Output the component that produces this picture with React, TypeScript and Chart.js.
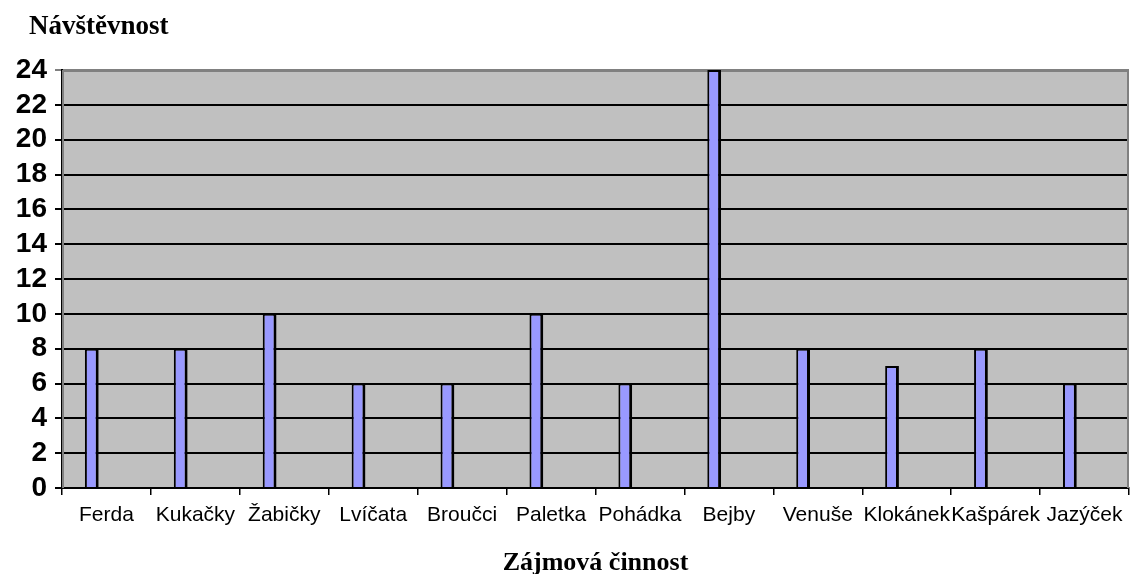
import React, { useEffect, useRef } from "react";
import { Chart, registerables } from "chart.js";

Chart.register(...registerables);

const categories = [
  "Ferda",
  "Kukačky",
  "Žabičky",
  "Lvíčata",
  "Broučci",
  "Paletka",
  "Pohádka",
  "Bejby",
  "Venuše",
  "Klokánek",
  "Kašpárek",
  "Jazýček",
];
const visits = [8, 8, 10, 6, 6, 10, 6, 24, 8, 7, 8, 6];
// second (empty) series of the original chart – it only reserves the slot beside each bar
const emptySeries = [null, null, null, null, null, null, null, null, null, null, null, null];
const yTicks = [0, 2, 4, 6, 8, 10, 12, 14, 16, 18, 20, 22, 24];

const chartTitle = "Návštěvnost";
const xTitle = "Zájmová činnost";

const plotBackground = {
  id: "plotBackground",
  beforeDraw(chart: any) {
    const { ctx, chartArea } = chart;
    ctx.save();
    ctx.fillStyle = "#C0C0C0";
    ctx.fillRect(chartArea.left, chartArea.top, chartArea.right - chartArea.left, chartArea.bottom - chartArea.top);
    ctx.restore();
  },
  beforeDatasetsDraw(chart: any) {
    const { ctx, chartArea } = chart;
    ctx.save();
    ctx.strokeStyle = "#808080";
    ctx.lineWidth = 2;
    ctx.beginPath();
    ctx.moveTo(chartArea.left + 1, chartArea.bottom);
    ctx.lineTo(chartArea.left + 1, chartArea.top + 1);
    ctx.lineTo(chartArea.right - 1, chartArea.top + 1);
    ctx.lineTo(chartArea.right - 1, chartArea.bottom);
    ctx.stroke();
    ctx.restore();
  },
  afterDraw(chart: any) {
    const { ctx } = chart;
    ctx.save();
    ctx.fillStyle = "#000";
    ctx.font = "bold 27px 'Liberation Serif', 'Times New Roman', serif";
    ctx.textAlign = "left";
    ctx.textBaseline = "middle";
    ctx.fillText(chartTitle, 29, 27);
    ctx.restore();
  },
};

export default function App() {
  const ref = useRef<HTMLCanvasElement | null>(null);

  useEffect(() => {
    if (!ref.current) return;
    const chart = new Chart(ref.current, {
      type: "bar",
      data: {
        labels: categories,
        datasets: [
          {
            label: "Návštěvnost",
            data: visits,
            backgroundColor: "#9999FF",
            borderColor: "#000000",
            borderWidth: { left: 2, right: 3, top: 2, bottom: 0 },
            borderSkipped: false,
            categoryPercentage: 0.66,
            barPercentage: 0.47,
          },
          {
            label: "",
            data: emptySeries,
            backgroundColor: "#993366",
            categoryPercentage: 0.66,
            barPercentage: 0.47,
          },
        ],
      },
      options: {
        responsive: false,
        animation: false,
        layout: { padding: { left: 0, top: 70, right: 19, bottom: 0 } },
        plugins: {
          legend: { display: false },
          tooltip: { enabled: false },
          title: { display: false },
        },
        scales: {
          x: {
            offset: true,
            grid: {
              display: true,
              offset: true,
              drawOnChartArea: false,
              drawTicks: true,
              tickLength: 7,
              color: "#000",
              lineWidth: 1.5,
            },
            border: { display: true, color: "#000", width: 2 },
            ticks: {
              color: "#000",
              font: { family: "'Liberation Sans', Arial, sans-serif", size: 21 },
              padding: 8,
              maxRotation: 0,
              autoSkip: false,
            },
            title: {
              display: true,
              text: xTitle,
              color: "#000",
              font: { family: "'Liberation Serif', 'Times New Roman', serif", size: 26, weight: "bold", lineHeight: 0.85 },
              padding: { top: 0, bottom: 0 },
            },
            afterFit(scale: any) {
              scale.height = 86;
            },
          },
          y: {
            min: 0,
            max: 24,
            afterBuildTicks(scale: any) {
              scale.ticks = yTicks.map((v) => ({ value: v }));
            },
            grid: {
              color: (c: any) => (c.tick && c.tick.value === 24 ? "#808080" : "#000"),
              lineWidth: 2,
              drawTicks: true,
              tickLength: 7,
            },
            border: { display: true, color: "#000", width: 2 },
            ticks: {
              color: "#000",
              autoSkip: false,
              font: { family: "'Liberation Sans', Arial, sans-serif", size: 28, weight: "bold" },
              padding: 8,
            },
            afterFit(scale: any) {
              scale.width = 62;
            },
          },
        },
      },
      plugins: [plotBackground],
    });
    return () => chart.destroy();
  }, []);

  return (
    <div style={{ position: "fixed", left: 0, top: 0, width: 1148, height: 574, background: "#fff" }}>
      <canvas ref={ref} width={1148} height={574} />
    </div>
  );
}
